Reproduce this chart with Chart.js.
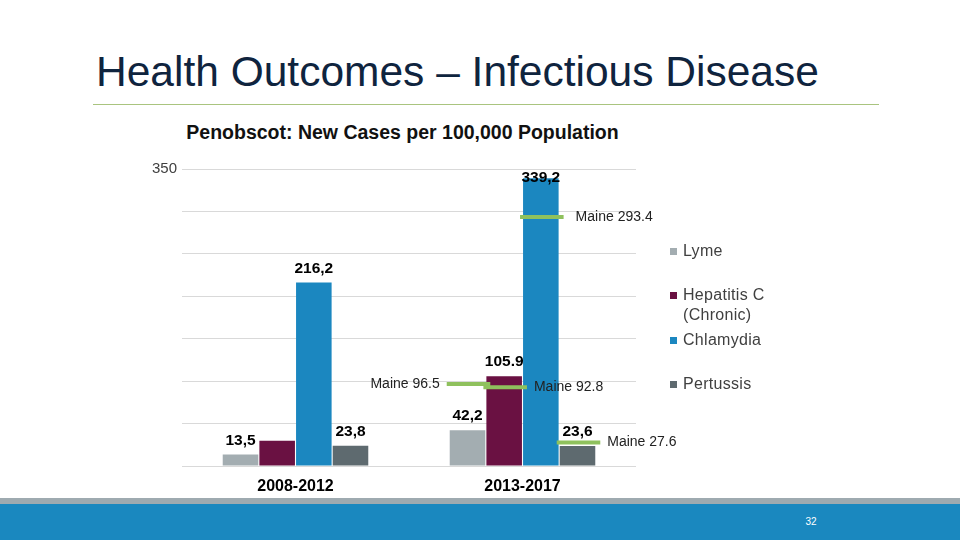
<!DOCTYPE html>
<html>
<head>
<meta charset="utf-8">
<script src="https://cdn.jsdelivr.net/npm/chart.js@4.4.1/dist/chart.umd.min.js"></script>
<style>
    body { margin: 0; width: 960px; height: 540px; overflow: hidden; background: #fff; position: relative; font-family: "Liberation Sans", Arial, sans-serif; }
    #slideTitle { position: absolute; left: 96px; top: 50.5px; font-size: 42.5px; line-height: 1; color: #0f243e; white-space: nowrap; }
    #titleRule { position: absolute; left: 93px; top: 104px; width: 786px; height: 1px; background: #a9c47f; }
    #chartTitle { position: absolute; left: 0; width: 805px; text-align: center; top: 122.5px; font-size: 19.5px; font-weight: bold; line-height: 1; color: #111; white-space: nowrap; }
    #chartWrap { position: absolute; left: 0; top: 0; width: 960px; height: 500px; }
    #legend { position: absolute; left: 670px; top: 241px; width: 120px; }
    .lg-item { position: relative; height: 44.3px; font-size: 16px; letter-spacing: 0.3px; line-height: 20px; color: #404040; }
    .lg-item span.box { position: absolute; left: 0; top: 7px; width: 7px; height: 7px; }
    .lg-item span.txt { position: absolute; left: 13px; top: 0; width: 100px; }
    #footGray { position: absolute; left: 0; top: 498px; width: 960px; height: 6px; background: #9eaab0; }
    #footBlue { position: absolute; left: 0; top: 504px; width: 960px; height: 36px; background: #1a88bf; }
    #pageNo { position: absolute; left: 801px; top: 516px; width: 20px; text-align: center; font-size: 10px; line-height: 12px; color: #fff; }
</style>
</head>
<body>
<div id="slideTitle">Health Outcomes – Infectious Disease</div>
<div id="titleRule"></div>
<div id="chartTitle">Penobscot: New Cases per 100,000 Population</div>
<div id="chartWrap"><canvas id="chartCases"></canvas></div>
<div id="legend"></div>
<div id="footGray"></div>
<div id="footBlue"></div>
<div id="pageNo">32</div>

<script>
// chart data
const periods = ['2008-2012', '2013-2017'];
const seriesNames = ['Lyme', 'Hepatitis C (Chronic)', 'Chlamydia', 'Pertussis'];
const lymeValues = [13.5, 42.2];
const hepatitisValues = [29.8, 105.9];
const chlamydiaValues = [216.2, 339.2];
const pertussisValues = [23.8, 23.6];
// data labels as printed on the slide (2008-2012 Hepatitis C has none)
const lymeLabels = ['13,5', '42,2'];
const hepatitisLabels = ['', '105.9'];
const chlamydiaLabels = ['216,2', '339,2'];
const pertussisLabels = ['23,8', '23,6'];
// Maine 2013-2017 reference values, one per series
const maineValues = [96.5, 92.8, 293.4, 27.6];
const yTickValues = [0, 50, 100, 150, 200, 250, 300, 350];
const yTickLabelsShown = ['350'];

const COLORS = ['#a3adb1', '#6a1142', '#1b87c0', '#5e6a6f'];
const MAINE_COLOR = '#8fc15d';

Chart.defaults.font.family = '"Liberation Sans", Arial, sans-serif';

const allValues = [lymeValues, hepatitisValues, chlamydiaValues, pertussisValues];
const allLabels = [lymeLabels, hepatitisLabels, chlamydiaLabels, pertussisLabels];

renderLegend();
renderChart();

function renderLegend() {
    const legend = document.querySelector('#legend');
    seriesNames.forEach((name, i) => {
        const item = document.createElement('div');
        item.className = 'lg-item';
        item.innerHTML = '<span class="box" style="background:' + COLORS[i] + '"></span><span class="txt">' + name + '</span>';
        legend.appendChild(item);
    });
}

function renderChart() {
    const ctx = document.querySelector('#chartCases').getContext('2d');

    const datasets = seriesNames.map((name, i) => ({
        label: name,
        data: allValues[i],
        backgroundColor: COLORS[i],
        borderWidth: 0,
        barPercentage: 0.97,
        categoryPercentage: 0.646
    }));

    new Chart(ctx, {
        type: 'bar',
        data: { labels: periods, datasets: datasets },
        plugins: [{
            id: 'maineAndLabels',
            afterDatasetsDraw(chart) {
                const { ctx, chartArea, scales } = chart;
                const last = periods.length - 1;
                ctx.save();

                // Maine markers over the 2013-2017 bars
                maineValues.forEach((val, i) => {
                    const bar = chart.getDatasetMeta(i).data[last];
                    const y = scales.y.getPixelForValue(val);
                    const x0 = bar.x - bar.width / 2 - 3;
                    const x1 = bar.x + bar.width / 2 + 5;
                    ctx.strokeStyle = MAINE_COLOR;
                    ctx.lineWidth = 4;
                    ctx.beginPath();
                    ctx.moveTo(x0, y);
                    ctx.lineTo(x1, y);
                    ctx.stroke();

                    ctx.fillStyle = '#222';
                    ctx.font = '14px "Liberation Sans", Arial, sans-serif';
                    ctx.textBaseline = 'middle';
                    const txt = 'Maine ' + val;
                    if (i === 0) {
                        ctx.textAlign = 'right';
                        ctx.fillText(txt, x0 - 7, y);
                    } else {
                        ctx.textAlign = 'left';
                        ctx.fillText(txt, x1 + 7 + (i === 2 ? 5 : 0), y);
                    }
                });

                // value labels
                ctx.fillStyle = '#000';
                ctx.font = 'bold 15.5px "Liberation Sans", Arial, sans-serif';
                ctx.textAlign = 'center';
                ctx.textBaseline = 'middle';
                allLabels.forEach((labels, i) => {
                    chart.getDatasetMeta(i).data.forEach((bar, j) => {
                        if (!labels[j]) return;
                        const y = Math.max(bar.y - 14, chartArea.top + 9);
                        ctx.fillText(labels[j], bar.x, y);
                    });
                });
                ctx.restore();
            }
        }],
        options: {
            responsive: true,
            maintainAspectRatio: false,
            animation: false,
            layout: { padding: { left: 142, right: 324, top: 169, bottom: 0 } },
            plugins: {
                legend: { display: false },
                tooltip: { enabled: false }
            },
            scales: {
                x: {
                    grid: { display: false, drawTicks: false },
                    border: { display: false },
                    ticks: { color: '#000', font: { size: 16, weight: 'bold' }, padding: 11 },
                    afterFit(scale) { scale.height = 34; }
                },
                y: {
                    min: 0,
                    max: 350,
                    afterBuildTicks(scale) { scale.ticks = yTickValues.map(v => ({ value: v })); },
                    grid: { color: '#d9d9d9', drawTicks: false },
                    border: { display: false },
                    ticks: {
                        color: '#404040',
                        font: { size: 15 },
                        padding: 5,
                        callback: v => yTickLabelsShown.includes(String(v)) ? String(v) : ''
                    },
                    afterFit(scale) { scale.width = 40; }
                }
            }
        }
    });
}
</script>
</body>
</html>
